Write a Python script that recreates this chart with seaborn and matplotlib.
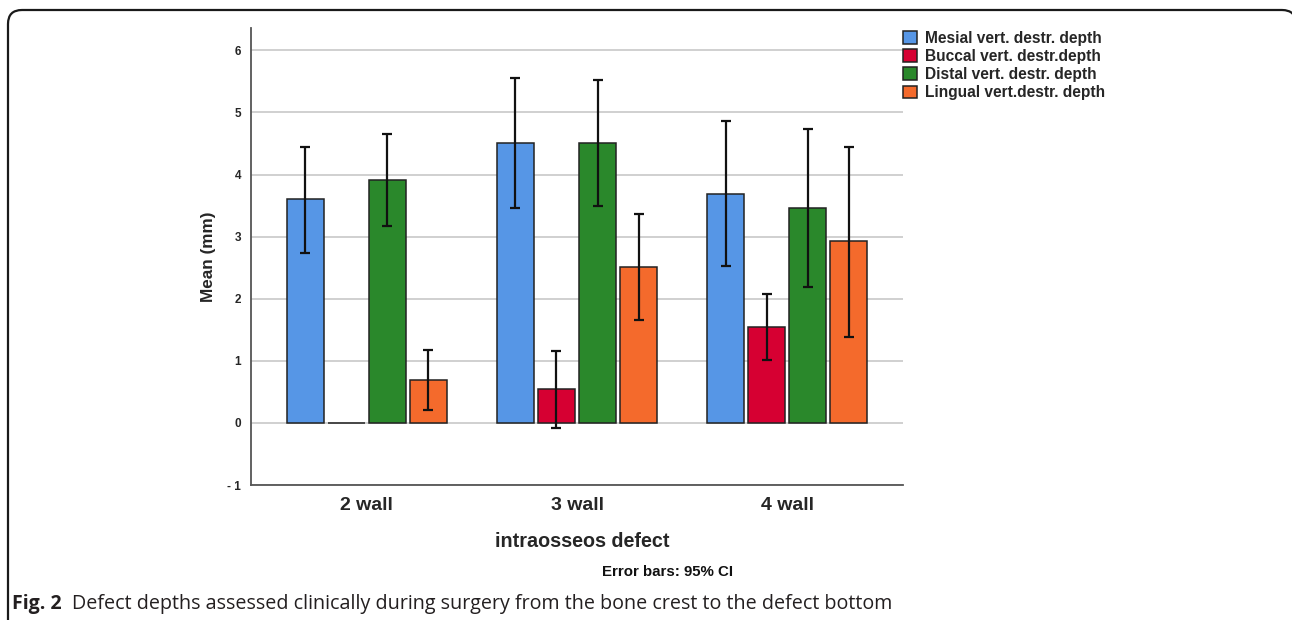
import numpy as np
import pandas as pd
import seaborn as sns
import matplotlib
matplotlib.use("Agg")
import matplotlib.pyplot as plt
from matplotlib.patches import PathPatch
from matplotlib.path import Path
from matplotlib.transforms import IdentityTransform

# ---- data -------------------------------------------------------------
categories = ["2 wall", "3 wall", "4 wall"]
series = [
    "Mesial vert. destr. depth",
    "Buccal vert. destr.depth",
    "Distal vert. destr. depth",
    "Lingual vert.destr. depth",
]
mesial_mean = [3.60, 4.51, 3.69]
buccal_mean = [0.00, 0.55, 1.54]
distal_mean = [3.91, 4.50, 3.46]
lingual_mean = [0.69, 2.51, 2.93]

mesial_lo = [2.74, 3.46, 2.53]
mesial_hi = [4.45, 5.56, 4.86]
buccal_lo = [np.nan, -0.08, 1.01]
buccal_hi = [np.nan, 1.16, 2.08]
distal_lo = [3.17, 3.50, 2.19]
distal_hi = [4.65, 5.52, 4.73]
lingual_lo = [0.21, 1.65, 1.39]
lingual_hi = [1.18, 3.36, 4.45]

y_ticks = [-1, 0, 1, 2, 3, 4, 5, 6]
y_ticklabels = ["- 1", "0", "1", "2", "3", "4", "5", "6"]

colors = ["#5696e6", "#d60032", "#2a882b", "#f46a2c"]

means = [mesial_mean, buccal_mean, distal_mean, lingual_mean]
lows = [mesial_lo, buccal_lo, distal_lo, lingual_lo]
highs = [mesial_hi, buccal_hi, distal_hi, lingual_hi]

df = pd.DataFrame(
    [(c, s, m[i]) for s, m in zip(series, means) for i, c in enumerate(categories)],
    columns=["defect", "measure", "mean"],
)

# ---- figure -----------------------------------------------------------
sns.set_theme(style="white")
plt.rcParams["font.family"] = ["Liberation Sans", "DejaVu Sans"]
plt.rcParams["font.weight"] = "bold"

W, H = 1292, 620
fig = plt.figure(figsize=(W / 100, H / 100), dpi=100)
ax = fig.add_axes([251 / W, 1 - 485 / H, (903 - 251) / W, (485 - 28) / H])

sns.barplot(
    data=df, x="defect", y="mean", hue="measure",
    order=categories, hue_order=series, palette=colors,
    width=0.78, gap=0.1, errorbar=None, saturation=1,
    edgecolor="#222222", linewidth=1.1, ax=ax, zorder=3,
)

# 95% CI error bars at each bar centre
for cont, lo, hi, m in zip(ax.containers, lows, highs, means):
    for bar, l, h, v in zip(cont, lo, hi, m):
        if np.isnan(l):
            continue
        xc = bar.get_x() + bar.get_width() / 2
        ax.errorbar(xc, v, yerr=[[v - l], [h - v]], fmt="none",
                    ecolor="#111111", elinewidth=1.6, capsize=3.6,
                    capthick=1.6, zorder=4)

ax.set_ylim(-1, 6.36)
ax.set_xlim(-0.55, 2.55)
ax.set_yticks(y_ticks)
ax.set_yticklabels(y_ticklabels, fontsize=8.5, fontweight="bold")
ax.tick_params(axis="y", length=0, pad=7)
ax.tick_params(axis="x", length=0, pad=9, labelsize=14)
for t in ax.get_xticklabels():
    t.set_fontweight("bold")

ax.yaxis.grid(True, color="#c4c4c4", linewidth=1.1, zorder=0)
ax.set_axisbelow(True)
for side in ["top", "right"]:
    ax.spines[side].set_visible(False)
for side in ["left", "bottom"]:
    ax.spines[side].set_color("#555555")
    ax.spines[side].set_linewidth(1.3)

ax.set_ylabel("Mean (mm)", fontsize=12.3, fontweight="bold", labelpad=8)
ax.set_xlabel("intraosseos defect", fontsize=14.2, fontweight="bold")
ax.xaxis.set_label_coords(0.508, -0.103)

handles, labels = ax.get_legend_handles_labels()
ax.legend(handles, labels, loc="upper left",
          bbox_to_anchor=(903 / W, 1 - 31 / H), bbox_transform=fig.transFigure,
          frameon=False, prop={"weight": "bold", "size": 11.2},
          handlelength=0.9, handleheight=0.9, handletextpad=0.5,
          labelspacing=0.2, borderpad=0, borderaxespad=0)

fig.text(667 / W, 1 - 572 / H, "Error bars: 95% CI", ha="center", va="center",
         fontsize=10.8, fontweight="bold", color="#111111")

# caption
fig.text(12 / W, 1 - 604 / H, "Fig. 2", ha="left", va="center",
         fontsize=14, fontweight="bold", family="Open Sans", color="#231f20")
fig.text(72 / W, 1 - 604 / H,
         "Defect depths assessed clinically during surgery from the bone crest to the defect bottom",
         ha="left", va="center", fontsize=14.2, fontweight="normal",
         family="Open Sans", color="#231f20")

# rounded page frame: left edge, top edge and the start of the right corner
def px(x, y):
    return (x, H - y)

frame_path = Path(
    [px(8, H + 5), px(8, 24), px(8, 10), px(22, 10),
     px(1282, 10), px(1296, 10), px(1296, 24)],
    [Path.MOVETO, Path.LINETO, Path.CURVE3, Path.CURVE3,
     Path.LINETO, Path.CURVE3, Path.CURVE3],
)
fig.patches.append(PathPatch(frame_path, transform=IdentityTransform(),
                             fill=False, edgecolor="#1a1a1a", linewidth=1.6))

fig.savefig("out.png", dpi=100)
